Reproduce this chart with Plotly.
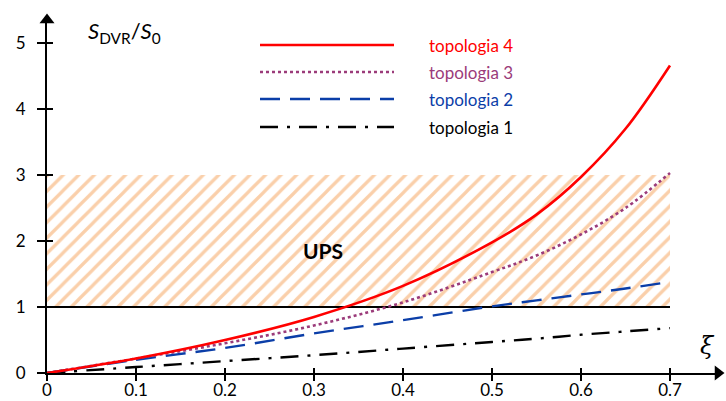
import plotly.graph_objects as go

# ---- data ----
xi = [0, 0.1, 0.2, 0.3, 0.4, 0.5, 0.55, 0.6, 0.65, 0.7]
topo4 = [0, 0.22, 0.5, 0.85, 1.32, 1.98, 2.4, 2.97, 3.7, 4.66]
topo3 = [0, 0.22, 0.45, 0.72, 1.07, 1.53, 1.78, 2.1, 2.5, 3.03]
topo2 = [0, 0.2, 0.38, 0.6, 0.8, 1.01, 1.1, 1.19, 1.28, 1.38]
topo1 = [0, 0.09, 0.18, 0.27, 0.37, 0.47, 0.52, 0.58, 0.63, 0.68]
ups_x = [0, 0.7]
ups_low, ups_high = 1, 3
x_ticks = [0, 0.1, 0.2, 0.3, 0.4, 0.5, 0.6, 0.7]
y_ticks = [0, 1, 2, 3, 4, 5]
series_names = ["topologia 4", "topologia 3", "topologia 2", "topologia 1"]

FONT = "Lato"
W, H = 726, 401
ML, MR, MT, MB = 47, 8, 20, 28
XMAX = (W - ML - MR) / 890.0
YMAX = (H - MT - MB) / 66.0

colors = ["#FF0000", "#9B3B7A", "#0B3EA8", "#000000"]
dashes = ["solid", "3px,3px", "20px,10px", "18px,9px,3px,9px"]
widths = [2.6, 2.6, 2.4, 2.4]

fig = go.Figure()

# hatched UPS region
fig.add_trace(go.Scatter(
    x=[ups_x[0], ups_x[1], ups_x[1], ups_x[0], ups_x[0]],
    y=[ups_low, ups_low, ups_high, ups_high, ups_low],
    mode="lines", line=dict(width=0), fill="toself",
    fillcolor="rgba(0,0,0,0)",
    fillpattern=dict(shape="/", fgcolor="#F5A055", bgcolor="white", size=11, solidity=0.3),
    hoverinfo="skip", showlegend=False))

# y = 1 line
fig.add_trace(go.Scatter(x=ups_x, y=[ups_low, ups_low], mode="lines",
                         line=dict(color="black", width=1.8), showlegend=False))

series = [topo4, topo3, topo2, topo1]
for ys, c, d, w, n in zip(series[::-1], colors[::-1], dashes[::-1], widths[::-1], series_names[::-1]):
    fig.add_trace(go.Scatter(x=xi, y=ys, mode="lines", name=n,
                             line=dict(color=c, dash=d, width=w, shape="spline"),
                             showlegend=False))

# axis arrowheads
fig.add_trace(go.Scatter(x=[0], y=[YMAX], mode="markers", cliponaxis=False,
                         marker=dict(symbol="triangle-up", size=13, color="black"),
                         showlegend=False, hoverinfo="skip"))
fig.add_trace(go.Scatter(x=[XMAX], y=[0], mode="markers", cliponaxis=False,
                         marker=dict(symbol="triangle-right", size=13, color="black"),
                         showlegend=False, hoverinfo="skip"))

# invisible trace on overlay axes (for crossing ticks)
fig.add_trace(go.Scatter(x=[0], y=[0], xaxis="x2", yaxis="y2", mode="markers",
                         marker=dict(opacity=0), showlegend=False, hoverinfo="skip"))


def px_to_x(px):
    return (px - ML) / (W - ML - MR) * XMAX


def px_to_y(py):
    return (H - MB - py) / (H - MB - MT) * YMAX


# custom legend
leg_rows = [45, 72, 99, 127]
for i, (n, c, d, w) in enumerate(zip(series_names, colors, dashes, widths)):
    fig.add_shape(type="line", x0=px_to_x(260), x1=px_to_x(394),
                  y0=px_to_y(leg_rows[i]), y1=px_to_y(leg_rows[i]),
                  line=dict(color=c, dash=d, width=w))
    fig.add_annotation(x=px_to_x(427), y=px_to_y(leg_rows[i]), text=n,
                       showarrow=False, xanchor="left", yanchor="middle",
                       font=dict(family=FONT, size=17, color=c))

# labels
fig.add_annotation(x=px_to_x(86), y=px_to_y(32),
                   text="<i>S</i><sub>DVR</sub>/<i>S</i><sub>0</sub>",
                   showarrow=False, xanchor="left", yanchor="middle",
                   font=dict(family=FONT, size=22, color="black"))
fig.add_annotation(x=px_to_x(707), y=px_to_y(346), text="<i>ξ</i>",
                   showarrow=False, font=dict(family="DejaVu Serif", size=24, color="black"))
fig.add_annotation(x=px_to_x(323), y=px_to_y(250), text="<b>UPS</b>",
                   showarrow=False, font=dict(family=FONT, size=21, color="black"))

axis_font = dict(family=FONT, size=17, color="black")
fig.update_layout(
    width=W, height=H,
    margin=dict(l=ML, r=MR, t=MT, b=MB, pad=0, autoexpand=False),
    plot_bgcolor="white", paper_bgcolor="white",
    xaxis=dict(range=[0, XMAX], tickvals=x_ticks, ticktext=[str(v) for v in x_ticks],
               showline=True, linecolor="black", linewidth=2, showgrid=False, zeroline=False,
               ticks="outside", ticklen=6, tickwidth=2, tickcolor="black", tickfont=axis_font,
               ticklabelstandoff=-5, automargin=False),
    yaxis=dict(range=[0, YMAX], tickvals=y_ticks, showline=True, linecolor="black", linewidth=2,
               showgrid=False, zeroline=False, ticks="outside", ticklen=8, tickwidth=2,
               tickcolor="black", tickfont=axis_font, ticklabelstandoff=8, automargin=False),
    xaxis2=dict(range=[0, XMAX], overlaying="x", tickvals=x_ticks, showticklabels=False,
                ticks="inside", ticklen=5, tickwidth=2, tickcolor="black", showgrid=False,
                zeroline=False, showline=False, automargin=False),
    yaxis2=dict(range=[0, YMAX], overlaying="y", tickvals=y_ticks, showticklabels=False,
                ticks="inside", ticklen=6, tickwidth=2, tickcolor="black", showgrid=False,
                zeroline=False, showline=False, automargin=False),
)

fig.write_html("out.html", config={"displayModeBar": False},
               post_script="document.body.style.margin='0';document.body.style.overflow='hidden';")
